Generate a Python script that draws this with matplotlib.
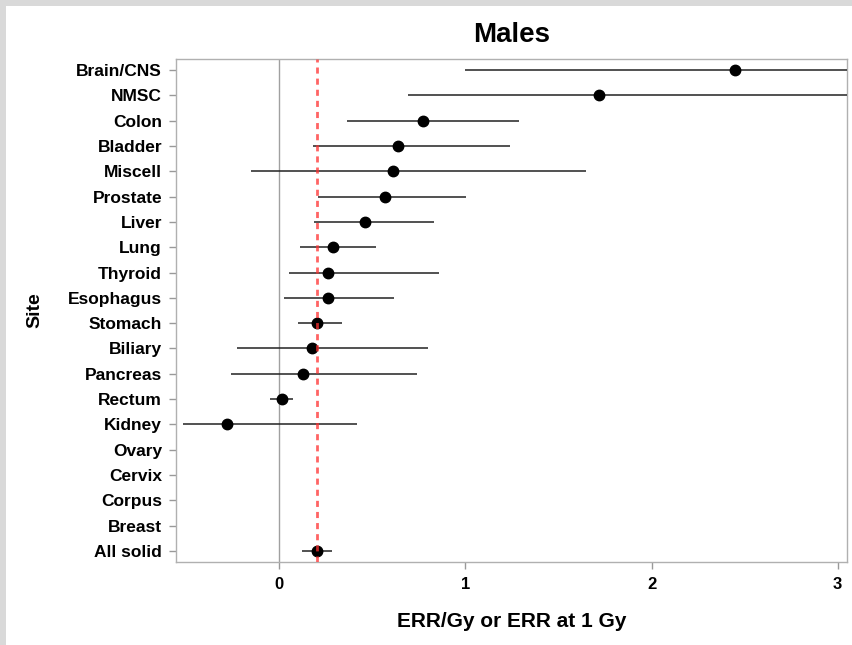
import matplotlib
matplotlib.use("Agg")
import matplotlib.pyplot as plt
import numpy as np
from matplotlib.patches import Rectangle

sites = ["Brain/CNS", "NMSC", "Colon", "Bladder", "Miscell", "Prostate", "Liver",
         "Lung", "Thyroid", "Esophagus", "Stomach", "Biliary", "Pancreas", "Rectum",
         "Kidney", "Ovary", "Cervix", "Corpus", "Breast", "All solid"]
est = [2.45, 1.72, 0.77, 0.64, 0.61, 0.57, 0.46, 0.286, 0.259, 0.259, 0.202, 0.173,
       0.129, 0.016, -0.279, np.nan, np.nan, np.nan, np.nan, 0.202]
lower = [1.00, 0.69, 0.363, 0.18, -0.15, 0.207, 0.188, 0.109, 0.052, 0.025, 0.102,
         -0.229, -0.259, -0.05, -0.516, np.nan, np.nan, np.nan, np.nan, 0.122]
upper = [4.0, 4.0, 1.29, 1.24, 1.65, 1.004, 0.83, 0.518, 0.856, 0.618, 0.338, 0.799,
         0.742, 0.073, 0.418, np.nan, np.nan, np.nan, np.nan, 0.283]
ref_value = 0.2
xticks = [0, 1, 2, 3]

W, H = 852, 645
fig = plt.figure(figsize=(W / 100, H / 100), dpi=100, facecolor="#d9d9d9")
fig.patches.append(Rectangle((6 / W, 0), 1 - 6 / W, 1 - 6 / H, transform=fig.transFigure,
                             facecolor="white", edgecolor="none", zorder=-10))

ax = fig.add_axes([176 / W, 1 - 562 / H, (847 - 176) / W, (562 - 59) / H])
ax.set_facecolor("white")

y = np.arange(len(sites))
for yi, e, lo, hi in zip(y, est, lower, upper):
    if np.isnan(e):
        continue
    ax.plot([lo, hi], [yi, yi], color="#222222", lw=1.1, zorder=3, solid_capstyle="butt")
    ax.plot(e, yi, "o", color="black", ms=7.5, zorder=4)

ax.axvline(0, color="#a0a0a0", lw=1.0, zorder=2)
ax.axvline(ref_value, color="#ff3030", lw=2.0, ls=(0, (2.2, 1.8)), alpha=0.75, zorder=5)

ax.set_xlim(-0.555, 3.05)
ax.set_ylim(len(sites) - 1 + 0.43, -0.43)
ax.set_yticks(y)
ax.set_yticklabels(sites, fontsize=12.5, fontweight="bold", family=["Liberation Sans", "DejaVu Sans"])
ax.set_xticks(xticks)
ax.set_xticklabels([str(t) for t in xticks], fontsize=12, fontweight="bold",
                   family=["Liberation Sans", "DejaVu Sans"])
for s in ax.spines.values():
    s.set_color("#b0b0b0")
    s.set_linewidth(1.0)
ax.tick_params(axis="both", colors="#999999", labelcolor="black", length=5, width=1.0, pad=5)
ax.tick_params(axis="x", pad=6)

ax.set_title("Males", fontsize=20, fontweight="bold", pad=12,
             family=["Liberation Sans", "DejaVu Sans"])
ax.set_xlabel("ERR/Gy or ERR at 1 Gy", fontsize=15, fontweight="bold", labelpad=14,
              family=["Liberation Sans", "DejaVu Sans"])
ax.set_ylabel("Site", fontsize=14, fontweight="bold", labelpad=18,
              family=["Liberation Sans", "DejaVu Sans"])

fig.savefig("out.png", dpi=100, facecolor=fig.get_facecolor())
